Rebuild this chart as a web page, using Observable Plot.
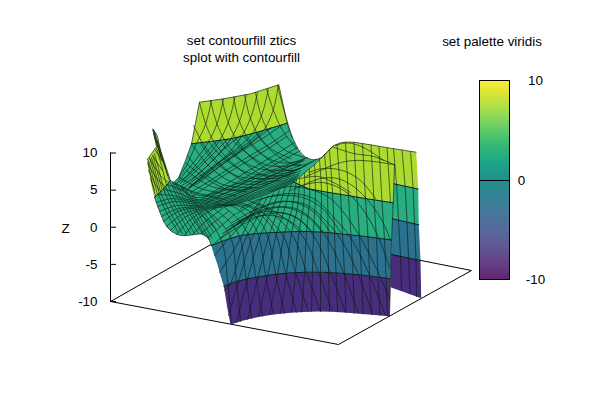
<!DOCTYPE html>
<html>
<head>
<meta charset="utf-8">
<script src="https://cdn.jsdelivr.net/npm/d3@7"></script>
<script src="https://cdn.jsdelivr.net/npm/@observablehq/plot@0.6"></script>
<style>html,body{margin:0;padding:0;background:#fff;overflow:hidden}svg{display:block}</style>
</head>
<body>
<div id="chart"></div>
<script>
// Text
const titleLines = ["set contourfill ztics", "splot with contourfill"];
const paletteTitle = "set palette viridis";
const zTicks = [-10, -5, 0, 5, 10];
const cbTicks = [-10, 0, 10];
const bandValues = {top: 7.5, upper: 2.5, lower: -2.5, bottom: -7.5};

// Base plane outline, read in picture coordinates
const baseOutline = [[110,301],[338,344],[471,270],[244,225],[110,301]];

// Filled contour bands
const bandWedge = [[154,196.7],[151.5,188],[150,180],[148,170],[146.7,159.3],[156,146],[152.3,128.3],[156.7,135],[160,150],[163,160],[166.7,170],[170,180],[161.7,190]];
const bandBackWall = [[191,143.3],[199,101.7],[223.3,98.3],[250,93.3],[278.3,84.3],[286.7,122.7],[271,127.5],[256.7,131.7],[243,135.3],[230,138.3],[210,141]];
const bandMainGreen = [[154,196.7],[156.5,204],[160,213.3],[163,220.5],[166.7,226.7],[171,231],[176.7,234],[181,235],[186.7,235],[193,234.3],[200,233.3],[203.5,234.5],[206.7,236.7],[209,240],[210.7,245],[225,239.5],[240,235],[256,233],[273.3,232],[290,231.2],[306.7,231],[323,231.7],[340,233.3],[365,236],[391,239.5],[392.7,202.3],[366.7,198.3],[343,194.3],[326.7,191.7],[308.3,188.3],[293.3,181.7],[313,165],[326,153],[321.7,156.7],[317.5,158.5],[313.3,159.3],[309,158.5],[305,156.7],[301.3,153.8],[298.3,150],[295.6,145],[293.3,140],[290,133.3],[286.7,122.7],[271,127.5],[256.7,131.7],[243,135.3],[230,138.3],[210,141],[191,143.3],[188,152],[185,160],[181.5,169],[178.3,176.7],[174.3,181],[170,180],[161.7,190]];
const bandFrontYellow = [[293.3,181.7],[313,165],[320,158.3],[327,151],[333.3,145],[340,142.3],[346,141.6],[353.3,141.7],[370,144.3],[390,147.7],[415.7,151.7],[417.7,188.3],[393.3,183.3],[392.7,202.3],[366.7,198.3],[343,194.3],[326.7,191.7],[308.3,188.3]];
const bandFrontBlue = [[210.7,245],[213.5,254],[216.7,263.3],[220,275],[223.3,285.7],[234,281.5],[246.7,278.3],[273.3,274],[290,272.4],[306.7,271.7],[323,271.8],[340,272.7],[365,275],[390,278.3],[391,239.5],[365,236],[340,233.3],[323,231.7],[306.7,231],[290,231.2],[273.3,232],[256,233],[240,235],[225,239.5]];
const bandFrontPurple = [[223.3,285.7],[225,296],[226.7,306.7],[230,324],[243,320],[256.7,316.7],[273,314],[290,312.3],[303,311.4],[316.7,311],[332,311.2],[346.7,312.3],[368,314],[389,315.7],[390,278.3],[365,275],[340,272.7],[323,271.8],[306.7,271.7],[290,272.4],[273.3,274],[246.7,278.3],[234,281.5]];
const bandRearGreen = [[393.3,183.3],[417.7,188.5],[418.3,224.3],[391.7,218.3]];
const bandRearBlue = [[391.7,218.3],[418.3,224.3],[420,260],[390.7,254]];
const bandRearPurple = [[390.7,254],[420,260],[420.7,297.7],[390,286.7]];

// Contour boundaries between the bands
const contourLines = [
  [[191,143.3],[210,141],[230,138.3],[243,135.3],[256.7,131.7],[271,127.5],[286.7,122.7]],
  [[154,196.7],[161.7,190],[170,180]],
  [[293.3,181.7],[308.3,188.3],[326.7,191.7],[343,194.3],[366.7,198.3],[392.7,202.3]],
  [[393.3,183.3],[417.7,188.5]],
  [[210.7,245],[225,239.5],[240,235],[256,233],[273.3,232],[290,231.2],[306.7,231],[323,231.7],[340,233.3],[365,236],[391,239.5]],
  [[391.7,218.3],[418.3,224.3]],
  [[223.3,285.7],[234,281.5],[246.7,278.3],[273.3,274],[290,272.4],[306.7,271.7],[323,271.8],[340,272.7],[365,275],[390,278.3]],
  [[390.7,254],[420,260]]
];

// Edges of the mesh
const edgeLines = [
  [[174.3,181],[178.3,176.7],[185,160],[191,143.3],[199,101.7],[223.3,98.3],[250,93.3],[278.3,84.3],[286.7,122.7],[290,133.3],[293.3,140],[298.3,150],[305,156.7],[309,158.5],[313.3,159.3],[317.5,158.5],[321.7,156.7],[327,151],[333.3,145],[340,142.3],[346,141.6],[353.3,141.7],[370,144.3],[390,147.7],[415.7,151.7]],
  [[293.3,181.7],[313,165],[320,158.3],[333.3,145]],
  [[394,164],[392.7,202.3],[391,239.5],[390,278.3],[389,315.7]],
  [[146.7,159.3],[156,146],[152.3,128.3],[156.7,135],[160,150],[166.7,170],[170,180]],
  [[154,196.7],[156.5,204],[160,213.3],[163,220.5],[166.7,226.7],[171,231],[176.7,234],[181,235],[186.7,235],[193,234.3],[200,233.3],[203.5,234.5],[206.7,236.7],[209,240],[210.7,245]]
];

// Near vertical mesh lines of the front wall
const meshFront = [
  [[387,315.5],[385.5,277.5],[384,239],[381.5,201],[378.5,146]],
  [[379.5,315],[377.5,276.5],[376,238],[373.5,200],[370.5,144.5]],
  [[371,314],[369,275.5],[367.5,237],[365,198],[362,143]],
  [[362.5,313.5],[361,275],[359,236],[356.5,197],[353.5,142]],
  [[354,313],[352.5,274],[350.5,235.5],[348,196],[345,142]],
  [[345.5,312],[344,273],[342,234],[340,193.5],[336.5,144]],
  [[337,311.5],[335.5,272.5],[334,233],[332,192],[329,150]],
  [[329,311],[328,272],[327.5,232],[327,191],[324,154]],
  [[320,311],[320,271.5],[320,231.5],[321,192],[319,159]],
  [[311,311],[312,271.5],[313,231],[315,195],[314,164]],
  [[301,311.5],[304,272],[306,231],[309,200],[309,169]],
  [[291,312],[295,273],[298.5,231.5],[303,205],[304,173]],
  [[280,313],[286,273.5],[291,232],[297,207],[299,177]],
  [[269,314],[277,274.5],[284,232.5],[291,210],[296,179]],
  [[258,316],[267,276],[276,233.5],[283,212],[291,183]],
  [[247,319],[257.5,277],[268.5,235],[276,214],[285,186]],
  [[236,322],[247,279],[259,237],[269,215],[279,190]],
  [[228,315],[238,281],[251,239],[262,217],[273,193]],
  [[224,290],[230,283],[243,243],[255,220],[267,196]],
  [[219,272],[235,247],[248,222],[261,199]],
  [[214,255],[229,237],[245,220],[258,202]],
  [[386.5,147.5],[388,170],[390,202]]
];

// Curved mesh lines crossing the front wall
const meshArcs = [
  [[383,160],[370,151],[357,144.5],[345,142.5],[335,145]],
  [[394,164.3],[373,156],[353,153],[333,146.7]],
  [[394,164.3],[373,161],[353,160],[337,163],[320,170],[305,176]],
  [[390,240],[383,223],[370,203],[353,186],[337,178],[320,178],[302,185]],
  [[389.5,268],[378,237],[367,216],[356,201],[340,188],[322,182],[305,184],[290,190]],
  [[389,297],[376.7,270],[361.7,240],[346.7,216.7],[330,198],[310,189],[288,186],[270,191]],
  [[385,315],[367,270],[350,237],[333,216.7],[313,198],[290,193],[263,198],[236.7,213]],
  [[372,314],[357,272],[341,240],[325,220],[305,204],[285,201],[262,207],[236,224],[222,233]],
  [[358,313],[343,272],[328,240],[313,220],[295,208],[275,207],[250,216],[228,230]],
  [[345,312],[330,272],[316,240],[302,222],[285,213],[265,214],[242,224],[220,238]],
  [[332,311],[318,272],[305,240],[292,224],[275,212],[258,203]],
  [[320,311],[306,272],[294,238],[282,222],[265,208],[248,200]],
  [[308,311],[295,272],[283,236],[272,222],[256,208],[238,202]],
  [[296,312],[285,272],[275,233],[264,218],[248,206],[230,204]],
  [[284,313],[275,273],[266,232],[255,216],[240,206],[222,205]],
  [[273,314],[265,274],[257,232],[246,216],[232,206],[215,204]],
  [[262,315.5],[255,275],[248,235],[237,218],[224,207]],
  [[251,318],[245.5,277.5],[239,236],[228,220],[214,209]],
  [[240,321],[236,281],[231,239],[220,222],[205,209]],
  [[231,323],[227.5,285],[222,243],[212,225],[195,210]],
  [[340,232],[322,208],[302,197],[280,195],[258,199],[240,208]],
  [[330,232],[315,213],[298,203],[278,201],[255,209],[232,222]],
  [[322,232],[308,217],[290,208],[270,207],[247,216],[226,228]],
  [[312,232],[298,218],[280,212],[260,212],[238,221]],
  [[303,232],[290,221],[272,215],[252,217],[232,227]],
  [[350,192],[335,183],[318,176],[300,178]],
  [[375,198],[360,180],[342,170],[322,168],[308,172]]
];

// Mesh lines falling from the back wall towards the valley
const meshBackFalling = [
  [[277,85],[283,108],[288,125],[292,137]],
  [[266,88.5],[273,110],[282,130],[296,148]],
  [[255,92],[260,113],[269,133],[285,150],[305,157]],
  [[244,94.5],[249,115],[258,135],[274,153],[298,165],[312,161]],
  [[233,96.5],[238,118],[247,137],[263,155],[288,170],[306,165]],
  [[221.5,98.5],[227,120],[236,139],[252,158],[277,173],[300,168]],
  [[210,100],[216,122],[225,141],[241,160],[266,176],[295,172]],
  [[199,101.7],[205,123],[214,142],[230,161],[255,178],[290,175]],
  [[193,125],[203,144],[219,163],[244,180],[280,180]],
  [[191,143],[208,165],[233,182],[270,183]],
  [[187,155],[197,167],[222,184],[258,187]],
  [[186,170],[211,186],[246,191]],
  [[179,177],[200,188],[235,195]],
  [[174,182],[189,190],[224,199]],
  [[200,143],[214,161],[238,176],[272,178]],
  [[208,141],[222,157],[247,172],[282,175]],
  [[219,140],[232,154],[258,168],[292,170]],
  [[231,138],[244,151],[268,165],[300,164]],
  [[243,135],[256,150],[279,162],[304,160]],
  [[255,132],[270,148],[290,158]],
  [[186,163],[204,177],[228,189],[252,188]]
];

// Mesh lines running from the back wall down to the left valley
const meshBackRising = [
  [[211,100],[205,124],[195,145],[186,165],[178,177]],
  [[223,98.5],[217,122],[207,143],[193,162],[178,180]],
  [[234.5,96.5],[228.5,120],[218.5,141],[203,160],[186,176],[174,184]],
  [[246,94],[240,118],[230,139],[214,158],[196,175],[180,186]],
  [[257,92],[251,115],[241,136],[225,156],[206,173],[188,188]],
  [[268,88],[262,112],[252,133],[235,149],[215,164],[196,178],[180,190]],
  [[278,84.5],[272.5,110],[263,130],[245,146],[225,160],[205,174],[188,187]],
  [[289,130],[270,143],[250,155],[230,167],[210,180],[190,192]],
  [[294,142],[275,154],[255,166],[235,178],[215,190],[200,200]],
  [[300,150],[280,161],[260,172],[240,184],[220,195],[205,203]],
  [[307,157],[285,168],[265,178],[243,190],[215,202]],
  [[316,159],[295,170],[275,180],[252,191],[225,203]],
  [[286,136],[268,148],[248,160],[228,172],[208,185],[192,196]],
  [[297,147],[278,158],[258,169],[238,181],[218,192],[203,201]],
  [[281,125],[262,138],[242,150],[222,164],[202,178],[186,190]],
  [[271,127],[254,140],[234,155],[214,170],[196,184]],
  [[260,131],[245,144],[226,157],[208,170],[190,186]],
  [[240,135],[222,150],[207,165],[191,180]],
  [[228,138],[212,154],[198,168],[183,182]],
  [[217,140],[203,155],[191,170],[180,183]]
];

// Tightly packed lines of the dark valley floor, fanning out to the left
const meshValley = [
  [[176,234],[190,219],[205,210],[230,205],[263,195],[293,182]],
  [[170,230],[186,216],[203,209],[230,204],[263,193.5],[294,180.5]],
  [[166,226],[183,213],[202,208],[230,203],[263,192],[295,179]],
  [[163,221],[180,210],[201,207],[230,202],[263,190.5],[296,178]],
  [[161,216],[178,208],[200,206],[230,200.5],[263,189],[297,176.5]],
  [[159,211],[176,205],[199,205],[230,199],[263,187],[298,175]],
  [[157,206],[174,201],[198,203.5],[230,197.5],[263,185],[299,173]],
  [[156,202],[172,198],[198,202],[230,195.5],[263,183],[300,170.5]],
  [[158,194],[172,195],[197,200.5],[230,193.5],[263,180.5],[300,168]],
  [[163,189],[176,192],[197,199],[230,191],[263,178],[300,165]],
  [[167,184],[180,189],[196,197],[230,188],[263,175],[302,161]],
  [[172,182],[185,188],[200,195],[232,185],[263,173],[304,158]]
];

// Fine mesh of the lower left green area
const meshLowerLeft = [
  [[158,194],[166,212],[178,232]],
  [[160,192],[168,209],[182,233]],
  [[163,189],[171,206],[186,233]],
  [[165,186],[174,205],[190,233]],
  [[167,184],[177,204],[194,233]],
  [[170,182],[180,203],[198,233]],
  [[172,182],[183,203],[202,233]],
  [[175,184],[186,203],[205,236]],
  [[177,185],[189,203],[209,239]],
  [[180,186],[192,203],[211,237]],
  [[182,187],[195,204],[213,232]],
  [[185,189],[198,205],[215,228]],
  [[190,192],[203,207],[219,226]],
  [[184,235],[198,218],[216,207]],
  [[192,234],[205,221],[222,208]],
  [[200,233.5],[212,223],[228,211]],
  [[207,237],[220,226],[235,213]],
  [[212,245],[226,232],[242,219]]
];

// Mesh of the far left wedge
const meshWedge = [
  [[157,194],[152,175],[148,160]],
  [[160,191],[155,172],[151,157]],
  [[163,188],[158,168],[154,153]],
  [[166,185],[161,165],[156,148]],
  [[169,181],[163,160],[157,140]],
  [[155,196],[150,175],[147.5,161]],
  [[158.5,192],[153.5,173],[149.5,158]],
  [[161.5,189],[156.5,170],[152.5,155]],
  [[147,163],[158,180],[165,186]],
  [[148,170],[155,184],[160,191]],
  [[149,158],[160,175],[168,182]],
  [[150,178],[154,190]],
  [[152,155],[162,170]],
  [[155,150],[163,162]],
  [[152.5,130],[157,145],[165,168]],
  [[154,131],[159,148],[167,175]],
  [[153,129],[156,140],[161,160]],
  [[153,133],[156,143],[160,155]]
];

// Near vertical mesh lines of the rear right wall
const meshRear = [
  [[393,148],[396,184],[398,220],[400,256],[401,290]],
  [[401.5,149.5],[404.5,185],[406.5,221],[408,257],[409.5,293]],
  [[410,151],[412.5,187],[414,223],[415.5,259],[416,296]]
];

const polyRows = (prefix, band, pts) => pts.map(([x, y]) => ({id: prefix, band, x, y}));
const lineRows = (prefix, lines) => lines.flatMap((pts, i) => pts.map(([x, y]) => ({id: prefix + i, x, y})));

const bands = [
  ...polyRows("wedge", bandValues.top, bandWedge),
  ...polyRows("main", bandValues.upper, bandMainGreen),
  ...polyRows("wall", bandValues.top, bandBackWall),
  ...polyRows("rearG", bandValues.upper, bandRearGreen),
  ...polyRows("rearB", bandValues.lower, bandRearBlue),
  ...polyRows("rearP", bandValues.bottom, bandRearPurple),
  ...polyRows("yellow", bandValues.top, bandFrontYellow),
  ...polyRows("blue", bandValues.lower, bandFrontBlue),
  ...polyRows("purple", bandValues.bottom, bandFrontPurple)
];
const mesh = [
  ...lineRows("w", meshWedge), ...lineRows("l", meshLowerLeft), ...lineRows("v", meshValley),
  ...lineRows("f", meshBackFalling), ...lineRows("r", meshBackRising),
  ...lineRows("a", meshArcs), ...lineRows("n", meshFront), ...lineRows("s", meshRear)
];

const zToPicture = d3.scaleLinear([-10, 10], [301, 152.5]);
const cbToPicture = d3.scaleLinear([-10, 10], [279.5, 80.5]);
const cbSteps = d3.range(-10, 10, 0.1);
const font = "Liberation Sans, Arial, sans-serif";
const ink = "#000";
const textSize = 13.4;

const chart = Plot.plot({
  width: 600, height: 400, margin: 0,
  style: {background: "#fff", fontFamily: font},
  x: {domain: [0, 600], range: [0, 600], axis: null},
  y: {domain: [0, 400], range: [0, 400], axis: null},
  color: {type: "linear", scheme: "viridis", domain: [-10, 10]},
  marks: [
    Plot.line(baseOutline, {x: d => d[0], y: d => d[1], stroke: ink, strokeWidth: 1, curve: "linear"}),
    Plot.line(bands, {x: "x", y: "y", z: "id", fill: "band", stroke: "none", curve: "linear"}),
    Plot.line(mesh, {x: "x", y: "y", z: "id", stroke: "#0a1a14", strokeWidth: 0.7, strokeOpacity: 0.9, curve: "catmull-rom"}),
    Plot.line(lineRows("c", contourLines), {x: "x", y: "y", z: "id", stroke: "#062018", strokeWidth: 1, curve: "linear"}),
    Plot.line(lineRows("e", edgeLines), {x: "x", y: "y", z: "id", stroke: "#14221c", strokeWidth: 0.7, curve: "linear"}),

    Plot.ruleX([0], {x: () => 110, y1: zToPicture(-10), y2: zToPicture(10), stroke: ink}),
    Plot.ruleY(zTicks, {y: d => zToPicture(d), x1: 110, x2: 116, stroke: ink}),
    Plot.text(zTicks, {text: d => String(d), x: 97, y: d => zToPicture(d), textAnchor: "end", fontSize: textSize, fill: ink}),
    Plot.text(["Z"], {x: 65, y: 228, fontSize: textSize, fill: ink}),

    Plot.text(titleLines, {text: d => d, x: 241, y: (d, i) => 40.5 + i * 16.5, fontSize: textSize, fill: ink}),
    Plot.text([paletteTitle], {x: 491.5, y: 41, fontSize: textSize, fill: ink}),

    Plot.rect(cbSteps, {x1: 479.5, x2: 509.5, y1: d => cbToPicture(d), y2: d => cbToPicture(d + 0.1) - 0.2, fill: d => d}),
    Plot.rect([0], {x1: 479.5, x2: 509.5, y1: cbToPicture(-10), y2: cbToPicture(10), fill: "none", stroke: ink}),
    Plot.ruleY([0], {y: d => cbToPicture(d), x1: 479.5, x2: 509.5, stroke: ink}),
    Plot.text(cbTicks, {text: d => String(d), x: d => d === 0 ? 521 : 535, y: d => cbToPicture(d), textAnchor: d => d === 0 ? "start" : "end", fontSize: textSize, fill: ink})
  ]
});
document.getElementById("chart").append(chart);
</script>
</body>
</html>
